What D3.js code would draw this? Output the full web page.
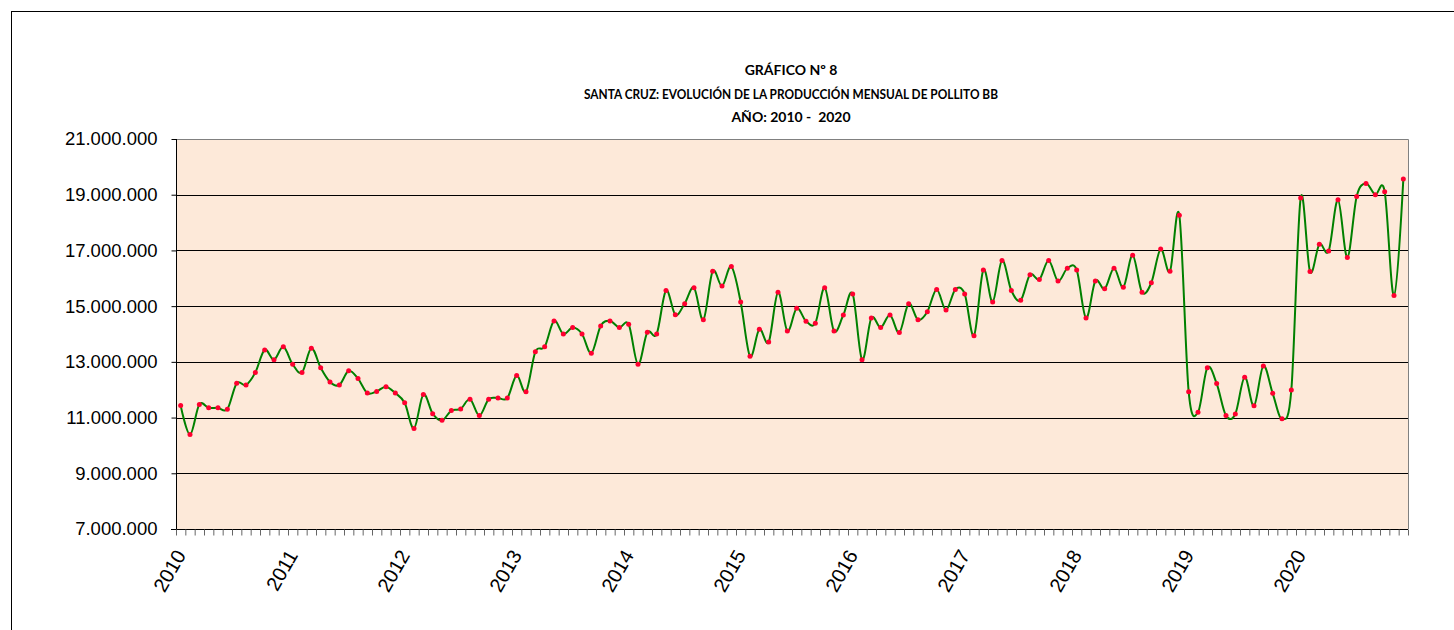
<!DOCTYPE html>
<html>
<head>
<meta charset="utf-8">
<script src="https://cdn.jsdelivr.net/npm/d3@7"></script>
<style>
  body { margin: 0; background: #fff; }
  svg { display: block; }
</style>
</head>
<body>
<div id="chart"></div>
<script>
// produccion mensual de pollito bb, ene..dic por año
var years = ["2010", "2011", "2012", "2013", "2014", "2015", "2016", "2017", "2018", "2019", "2020"];
var prod2010 = [11430000, 10390000, 11470000, 11350000, 11350000, 11300000, 12230000, 12170000, 12620000, 13430000, 13080000, 13540000];
var prod2011 = [12910000, 12620000, 13490000, 12790000, 12280000, 12170000, 12680000, 12400000, 11880000, 11940000, 12110000, 11880000];
var prod2012 = [11530000, 10610000, 11830000, 11140000, 10900000, 11250000, 11310000, 11660000, 11070000, 11660000, 11700000, 11700000];
var prod2013 = [12510000, 11930000, 13360000, 13540000, 14470000, 14000000, 14230000, 14000000, 13310000, 14290000, 14470000, 14230000];
var prod2014 = [14350000, 12910000, 14060000, 14000000, 15560000, 14690000, 15090000, 15660000, 14510000, 16250000, 15720000, 16420000];
var prod2015 = [15150000, 13200000, 14170000, 13710000, 15500000, 14110000, 14920000, 14460000, 14390000, 15660000, 14110000, 14680000];
var prod2016 = [15440000, 13080000, 14570000, 14230000, 14680000, 14050000, 15090000, 14510000, 14800000, 15600000, 14860000, 15600000];
var prod2017 = [15440000, 13940000, 16300000, 15150000, 16640000, 15560000, 15210000, 16130000, 15960000, 16640000, 15900000, 16360000];
var prod2018 = [16300000, 14570000, 15900000, 15620000, 16360000, 15680000, 16830000, 15500000, 15840000, 17050000, 16250000, 18260000];
var prod2019 = [11930000, 11190000, 12790000, 12220000, 11070000, 11130000, 12450000, 11420000, 12850000, 11870000, 10960000, 11990000];
var prod2020 = [18880000, 16240000, 17220000, 16980000, 18820000, 16750000, 18940000, 19400000, 19000000, 19110000, 15380000, 19560000];
var yTicks = [7000000, 9000000, 11000000, 13000000, 15000000, 17000000, 19000000, 21000000];
var titleLines = ["GRÁFICO Nº 8", "SANTA CRUZ: EVOLUCIÓN DE LA PRODUCCIÓN MENSUAL DE POLLITO BB", "AÑO: 2010 -  2020"];

var values = [].concat(prod2010, prod2011, prod2012, prod2013, prod2014, prod2015,
                       prod2016, prod2017, prod2018, prod2019, prod2020);
var data = values.map(function(v, i) { return { i: i, value: v }; });

var width = 1454, height = 630;
var plotLeft = 176, plotRight = 1408, plotTop = 139, plotBottom = 529;

var svg = d3.select("#chart").append("svg")
    .attr("width", width)
    .attr("height", height);

// marco exterior
svg.append("rect")
    .attr("x", 11.5).attr("y", 11.5)
    .attr("width", 1460).attr("height", 660)
    .attr("fill", "none")
    .attr("stroke", "#000");

// titulo (la linea larga se ajusta al ancho de Calibri)
svg.append("g").selectAll("text")
    .data(titleLines)
    .enter().append("text")
    .attr("x", 791)
    .attr("y", (d, i) => 75 + i * 23.5)
    .attr("text-anchor", "middle")
    .attr("textLength", (d, i) => i == 1 ? 414 : null)
    .attr("lengthAdjust", "spacingAndGlyphs")
    .style("font-family", "Lato, 'Open Sans', sans-serif")
    .style("font-weight", "bold")
    .style("font-size", "14px")
    .style("white-space", "pre")
    .text(d => d);

var x = d3.scaleBand()
    .domain(d3.range(values.length))
    .range([plotLeft, plotRight])
    .padding(0);

var xTicks = d3.scaleLinear()
    .domain([0, values.length])
    .range([plotLeft, plotRight]);

var y = d3.scaleLinear()
    .domain([7000000, 21000000])
    .range([plotBottom, plotTop]);

var fmt = d3.formatLocale({ decimal: ",", thousands: ".", grouping: [3], currency: ["", ""] }).format(",");

// fondo del area
svg.append("rect")
    .attr("x", plotLeft).attr("y", plotTop)
    .attr("width", plotRight - plotLeft).attr("height", plotBottom - plotTop)
    .attr("fill", "#fde9d9");

// lineas de division
svg.append("g").selectAll("line")
    .data(yTicks.filter(d => d > 7000000 && d < 21000000))
    .enter().append("line")
    .attr("x1", plotLeft).attr("x2", plotRight)
    .attr("y1", d => Math.round(y(d)) + 0.5)
    .attr("y2", d => Math.round(y(d)) + 0.5)
    .attr("stroke", "#000");

// borde superior y derecho
svg.append("path")
    .attr("d", "M" + plotLeft + "," + (plotTop + 0.5) + "H" + (plotRight + 0.5) + "V" + plotBottom)
    .attr("fill", "none")
    .attr("stroke", "#808080");

// eje y
var yAxis = svg.append("g")
    .attr("transform", "translate(" + (plotLeft + 0.5) + ",0)")
    .call(d3.axisLeft(y).tickValues(yTicks).tickFormat(fmt).tickSize(5).tickPadding(14));
yAxis.select(".domain").attr("stroke", "#000").attr("d", "M0," + plotTop + "V" + plotBottom);
yAxis.selectAll(".tick line").attr("stroke", "#000");
yAxis.selectAll("text")
    .style("font-family", "'Liberation Sans', Arial, sans-serif")
    .style("font-size", "18.5px")
    .attr("fill", "#000");

// eje x: marcas entre categorias
var xAxis = svg.append("g")
    .attr("transform", "translate(0," + (plotBottom + 0.5) + ")")
    .call(d3.axisBottom(xTicks).tickValues(d3.range(values.length + 1)).tickFormat("").tickSize(6));
xAxis.select(".domain").attr("stroke", "#000").attr("d", "M" + (plotLeft - 5) + ",0H" + plotRight);
xAxis.selectAll(".tick line").attr("stroke", "#666");

// etiquetas de años
svg.append("g").selectAll("text")
    .data(years)
    .enter().append("text")
    .attr("transform", function(d, k) {
        var cx = x(k * 12) + x.bandwidth() / 2 + 6;
        return "translate(" + cx + "," + 555 + ") rotate(-60)";
    })
    .attr("text-anchor", "end")
    .style("font-family", "'Liberation Sans', Arial, sans-serif")
    .style("font-size", "20px")
    .text(d => d);

// serie suavizada
var line = d3.line()
    .x(d => x(d.i) + x.bandwidth() / 2)
    .y(d => y(d.value))
    .curve(d3.curveCardinal.tension(0));

svg.append("path")
    .datum(data)
    .attr("d", line)
    .attr("fill", "none")
    .attr("stroke", "#008000")
    .attr("stroke-width", 2);

svg.append("g").selectAll("circle")
    .data(data)
    .enter().append("circle")
    .attr("cx", d => x(d.i) + x.bandwidth() / 2)
    .attr("cy", d => y(d.value))
    .attr("r", 2.5)
    .attr("fill", "#ff0030");
</script>
</body>
</html>
